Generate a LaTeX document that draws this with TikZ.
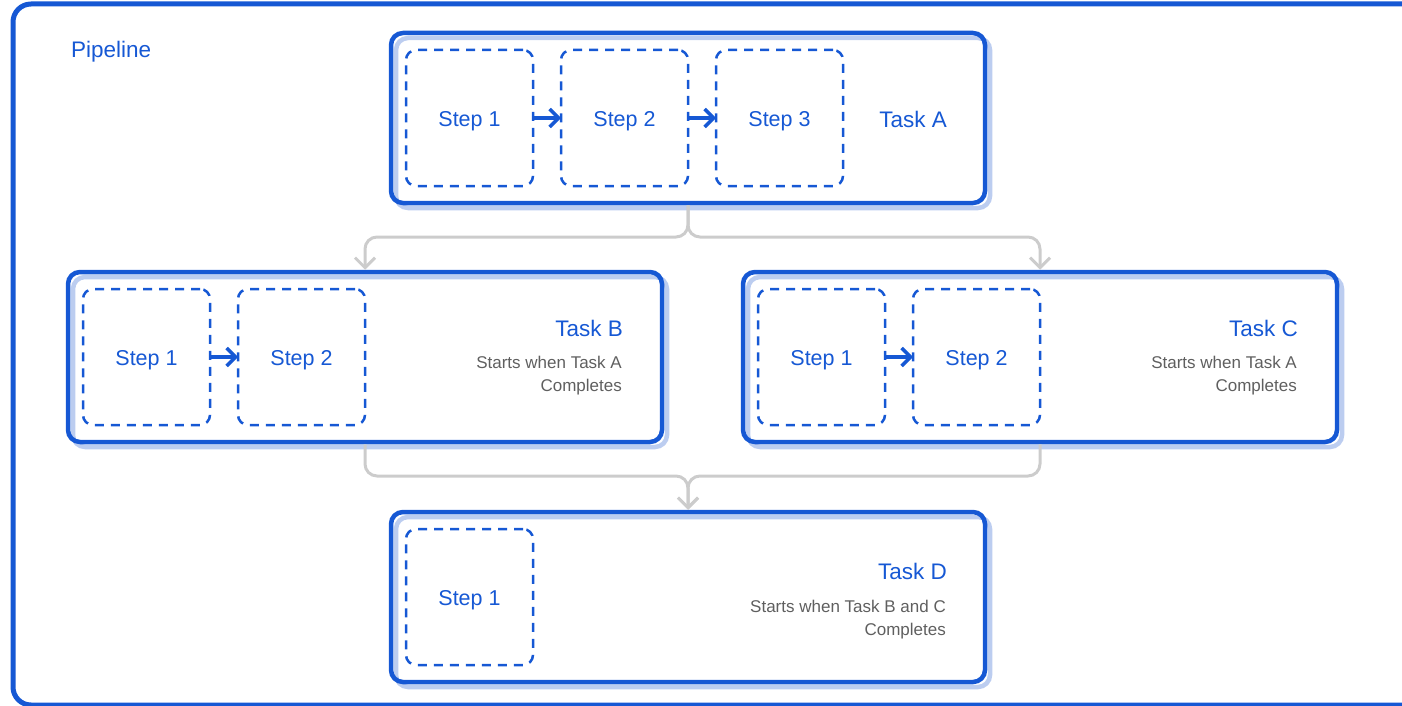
\documentclass[tikz,border=0pt]{standalone}
\usepackage{fontspec}
\setmainfont{Liberation Sans}
\usetikzlibrary{positioning,arrows.meta}
\definecolor{pipeblue}{RGB}{22,88,212}
\definecolor{shadeblue}{RGB}{188,205,240}
\definecolor{linkgray}{RGB}{204,204,204}
\definecolor{notegray}{RGB}{95,95,95}
\tikzset{
	task/.style={draw=pipeblue,line width=4.5pt,rounded corners=12pt,
		minimum width=594pt,minimum height=170pt,inner sep=0pt,
		preaction={draw=shadeblue,line width=4.5pt,transform canvas={xshift=5pt,yshift=-5pt}}},
	stepbox/.style={draw=pipeblue,line width=2.5pt,dash pattern=on 9pt off 7pt,
		rounded corners=10pt,minimum width=127pt,minimum height=136pt,inner sep=0pt,outer sep=0pt,
		text height=17pt,text depth=0pt,text=pipeblue,font=\fontsize{21.5}{25}\selectfont},
	title/.style={anchor=east,text=pipeblue,font=\fontsize{22.5}{26}\selectfont,inner sep=0pt},
	note/.style={anchor=north east,align=right,text=notegray,font=\fontsize{17}{23}\selectfont,inner sep=0pt},
	flow/.style={-{Straight Barb[length=9pt,width=18pt]},draw=pipeblue,line width=3.5pt},
	link/.style={-{Straight Barb[length=10pt,width=20pt]},draw=linkgray,line width=3pt,
		rounded corners=12pt},
}
\begin{document}
\begin{tikzpicture}[x=1pt,y=-1pt]
			\useasboundingbox (0,0) rectangle (1402,706);
			\draw[pipeblue,line width=5pt,rounded corners=18pt] (13,4) rectangle (1440,705);
			\node[anchor=west,text=pipeblue,font=\fontsize{22.5}{26}\selectfont,inner sep=0pt] (pipe) at (71,52) {Pipeline};
			
			\node[task] (A) at (688,118) {};
			\node[task] (B) at (365,357) {};
			\node[task] (C) at (1040,357) {};
			\node[task] (D) at (688,597) {};
			
			\begin{scope}[every node/.style={stepbox}]
			\node (a1) at (469.5,118) {Step 1};
			\node[right=28pt of a1] (a2) {Step 2};
			\node[right=28pt of a2] (a3) {Step 3};
			\node (b1) at (146.5,357) {Step 1};
			\node[right=28pt of b1] (b2) {Step 2};
			\node (c1) at (821.5,357) {Step 1};
			\node[right=28pt of c1] (c2) {Step 2};
			\node (d1) at (469.5,597) {Step 1};
			\end{scope}
			
			\draw[flow] (a1) -- (a2);
			\draw[flow] (a2) -- (a3);
			\draw[flow] (b1) -- (b2);
			\draw[flow] (c1) -- (c2);
			
			\node[title] (ta) at (947,119) {Task A};
			\node[title] (tb) at (623,328) {Task B};
			\node[note] (nb) at (622,356) {Starts when Task A\\Completes};
			\node[title] (tc) at (1298,328) {Task C};
			\node[note] (nc) at (1297,356) {Starts when Task A\\Completes};
			\node[title] (td) at (947,571) {Task D};
			\node[note] (nd) at (946,600) {Starts when Task B and C\\Completes};
			
			\coordinate (split) at (688,237);
			\coordinate (join) at (688,476);
			\draw[link] (A.south) -- (split) -| (B.north);
			\draw[link] (A.south) -- (split) -| (C.north);
			\draw[link] (B.south) |- (join) -- (D.north);
			\draw[link] (C.south) |- (join) -- (D.north);
			\end{tikzpicture}
\end{document}
